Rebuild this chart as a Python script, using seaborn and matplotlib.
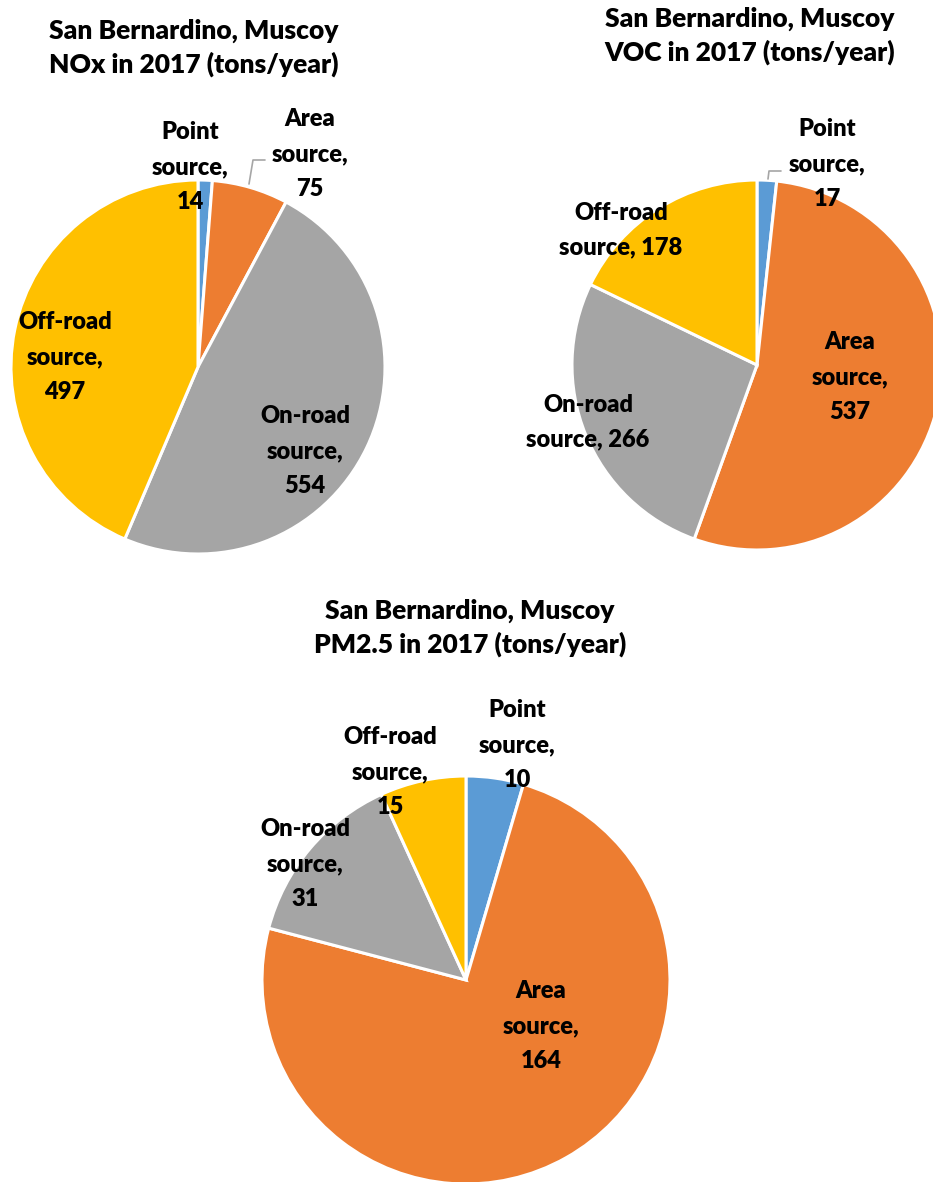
import matplotlib
matplotlib.use("Agg")
import matplotlib.pyplot as plt
import seaborn as sns

# data
sources = ["Point", "Area", "On-road", "Off-road"]
nox = [14, 75, 554, 497]
voc = [17, 537, 266, 178]
pm25 = [10, 164, 31, 15]

sns.set_theme(style="white")
plt.rcParams['font.family'] = ['Lato', 'DejaVu Sans']
palette = ["#5B9BD5", "#ED7D31", "#A5A5A5", "#FFC000"]

W, H = 933, 1182
fig = plt.figure(figsize=(W / 100, H / 100), dpi=100)
ax = fig.add_axes([0, 0, 1, 1])
ax.set_xlim(0, W)
ax.set_ylim(0, H)
ax.set_aspect('equal')
ax.axis('off')


def py(y):
    return H - y


def draw_pie(values, cx, cy, r, title, tx, ty, labels):
    ax.pie(values, colors=palette, startangle=90, counterclock=False,
           center=(cx, py(cy)), radius=r,
           wedgeprops=dict(edgecolor="white", linewidth=2.2))
    ax.text(tx, py(ty), title, ha="center", va="center", fontsize=19,
            fontweight="heavy", linespacing=1.42, color="black")
    for text, lx, ly in labels:
        ax.text(lx, py(ly), text, ha="center", va="center", fontsize=17,
                fontweight="heavy", linespacing=1.7, color="black")


draw_pie(nox, 198, 367, 187,
         "San Bernardino, Muscoy\nNOx in 2017 (tons/year)", 194, 48,
         [("Point\nsource,\n14", 190, 167),
          ("Area\nsource,\n75", 310, 154),
          ("On-road\nsource,\n554", 305, 451),
          ("Off-road\nsource,\n497", 65, 357)])

draw_pie(voc, 757, 365, 185,
         "San Bernardino, Muscoy\nVOC in 2017 (tons/year)", 750, 36,
         [("Point\nsource,\n17", 827, 164),
          ("Area\nsource,\n537", 850, 377),
          ("On-road\nsource, 266", 588, 422),
          ("Off-road\nsource, 178", 621, 230)])

draw_pie(pm25, 466, 980, 204,
         "San Bernardino, Muscoy\nPM2.5 in 2017 (tons/year)", 470, 628,
         [("Point\nsource,\n10", 517, 745),
          ("Area\nsource,\n164", 541, 1026),
          ("On-road\nsource,\n31", 305, 864),
          ("Off-road\nsource,\n15", 390, 772)])

# leader lines
ax.plot([265, 253, 249], [py(160), py(160), py(184)], color="#A6A6A6", lw=1.2)
ax.plot([781, 769, 768], [py(171), py(171), py(179)], color="#A6A6A6", lw=1.2)

ax.set_xlim(0, W)
ax.set_ylim(0, H)
fig.savefig("out.png", dpi=100)
